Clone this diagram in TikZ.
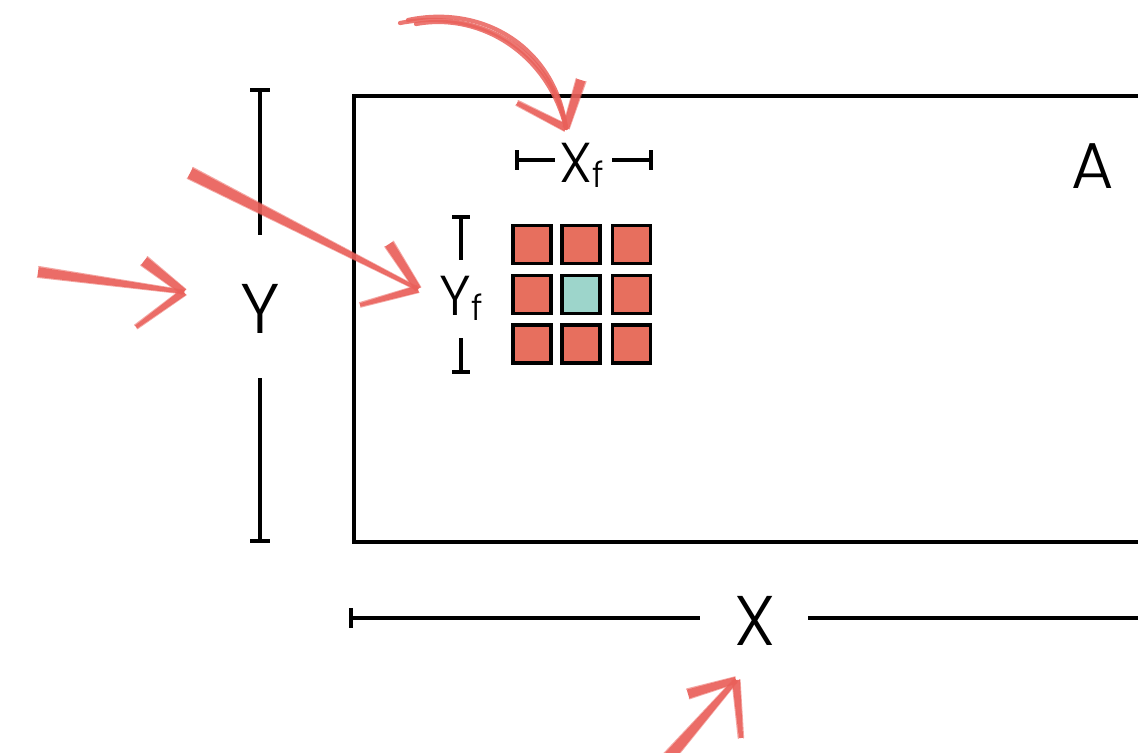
\documentclass[tikz,border=0pt]{standalone}
\usepackage{fontspec}
\IfFontExistsTF{Poppins Light}{\setmainfont{Poppins Light}}{\setmainfont{Poppins}}
\usetikzlibrary{calc}
\definecolor{cellred}{HTML}{E76F5E}
\definecolor{cellteal}{HTML}{9DD5CB}
\definecolor{brushred}{HTML}{E9605A}
\tikzset{
  frame/.style={draw=black, line width=1.8pt},
  dimline/.style={draw=black, line width=1.8pt},
  cell/.style={draw=black, line width=1.9pt, minimum size=0.76cm, inner sep=0pt, fill=cellred},
  centercell/.style={cell, fill=cellteal},
  biglabel/.style={inner sep=0pt, font=\fontsize{40}{40}\selectfont},
  brushfill/.style={fill=brushred, opacity=0.92},
  brushline/.style={draw=brushred, line width=2.4pt, line cap=round, line join=round, opacity=0.85},
  brushhair/.style={draw=brushred, line width=0.8pt, line cap=round, opacity=0.55},
}
% tapered brush stroke from #1 (half width #3) to #2 (half width #4), with ragged edges
\newcommand\taper[4]{%
  \fill[brushfill] ($(#1)!#3!90:(#2)$) -- ($(#2)!#4!-90:(#1)$)
    -- ($(#2)!#4!90:(#1)$) -- ($(#1)!#3!-90:(#2)$) -- cycle;
  \draw[brushhair] ($(#1)!#3+0.3pt!90:(#2)$) -- ($(#2)!#4!-90:(#1)$);
  \draw[brushhair] ($(#1)!#3+0.2pt!-90:(#2)$) -- ($(#2)!#4!90:(#1)$);
}
\begin{document}
\begin{tikzpicture}[x=0.02cm, y=-0.02cm]
\useasboundingbox (0,0) rectangle (1138,752);
\clip (0,0) rectangle (1138,752);

% main area A
\draw[frame] (354,96) rectangle (1150,542);
\node[biglabel, font=\fontsize{37}{37}\selectfont] (A) at (1093,166) {A};

% vertical dimension Y
\coordinate (ytop) at (260,90);
\coordinate (ybot) at (260,541);
\node[biglabel] (Y) at (260,309) {Y};
\draw[dimline] (ytop) -- (260,235);
\draw[dimline] (260,378) -- (ybot);
\draw[dimline] ([shift={(-10,0)}]ytop) -- ([shift={(10,0)}]ytop);
\draw[dimline] ([shift={(-10,0)}]ybot) -- ([shift={(10,0)}]ybot);

% horizontal dimension X
\coordinate (xleft) at (351,618);
\coordinate (xright) at (1150,618);
\node[biglabel] (X) at (755,621) {X};
\draw[dimline] (xleft) -- (700,618);
\draw[dimline] (808,618) -- (xright);
\draw[dimline] ([shift={(0,-10)}]xleft) -- ([shift={(0,10)}]xleft);

% filter width Xf
\coordinate (xfl) at (517,160);
\coordinate (xfr) at (651,160);
\node[inner sep=0pt, anchor=base] (Xf) at (582,182)
  {\fontsize{32}{32}\selectfont X\raisebox{-0.1em}{\fontsize{20}{20}\selectfont f}};
\draw[dimline] (xfl) -- (555,160);
\draw[dimline] (612,160) -- (xfr);
\draw[dimline] ([shift={(0,-10)}]xfl) -- ([shift={(0,10)}]xfl);
\draw[dimline] ([shift={(0,-10)}]xfr) -- ([shift={(0,10)}]xfr);

% filter height Yf
\coordinate (yft) at (461,217);
\coordinate (yfb) at (461,372);
\node[inner sep=0pt, anchor=base] (Yf) at (461,315)
  {\fontsize{32}{32}\selectfont Y\raisebox{-0.1em}{\fontsize{20}{20}\selectfont f}};
\draw[dimline] (yft) -- (461,260);
\draw[dimline] (461,338) -- (yfb);
\draw[dimline] ([shift={(-9,0)}]yft) -- ([shift={(9,0)}]yft);
\draw[dimline] ([shift={(-9,0)}]yfb) -- ([shift={(9,0)}]yfb);

% 3x3 filter grid
\node[cell] (c11) at (532,244.5) {};
\node[cell] (c12) at (581,244.5) {};
\node[cell] (c13) at (631.5,244.5) {};
\node[cell] (c21) at (532,294.5) {};
\node[centercell] (c22) at (581,294.5) {};
\node[cell] (c23) at (631.5,294.5) {};
\node[cell] (c31) at (532,344) {};
\node[cell] (c32) at (581,344) {};
\node[cell] (c33) at (631.5,344) {};

% pointer to Xf (curved): a fan of strokes that meet at the tip
\coordinate (p1s) at (400,23);
\coordinate (p1t) at (566,128);
\coordinate (p1l) at (517,103);
\coordinate (p1r) at (581,80);
\draw[brushline] (p1s) .. controls (480,8) and (552,50) .. (p1t);
\draw[brushline] ([shift={(8,-3)}]p1s) .. controls (484,4) and (555,48) .. (p1t);
\draw[brushline] ([shift={(16,1)}]p1s) .. controls (481,12) and (548,54) .. (p1t);
\taper{p1l}{p1t}{1.2pt}{2pt}
\taper{p1r}{p1t}{2.6pt}{1.8pt}

% pointer to Yf (long diagonal)
\coordinate (p2s) at (190,173);
\coordinate (p2t) at (418,289);
\coordinate (p2u) at (389,244);
\coordinate (p2d) at (360,305);
\taper{p2s}{p2t}{3.2pt}{0.9pt}
\taper{p2u}{p2t}{2.6pt}{1.8pt}
\taper{p2d}{p2t}{1pt}{2pt}

% pointer to Y
\coordinate (p3s) at (38,272);
\coordinate (p3t) at (184,292);
\coordinate (p3u) at (144,261);
\coordinate (p3d) at (136,327);
\taper{p3s}{p3t}{2.8pt}{1pt}
\taper{p3u}{p3t}{2.8pt}{1.8pt}
\taper{p3d}{p3t}{1pt}{2pt}

% pointer to X
\coordinate (p4s) at (662,765);
\coordinate (p4t) at (736,680);
\coordinate (p4l) at (688,694);
\coordinate (p4d) at (741,738);
\taper{p4s}{p4t}{3.4pt}{1.2pt}
\taper{p4l}{p4t}{2.6pt}{1.8pt}
\taper{p4d}{p4t}{1.2pt}{2.2pt}
\end{tikzpicture}
\end{document}
